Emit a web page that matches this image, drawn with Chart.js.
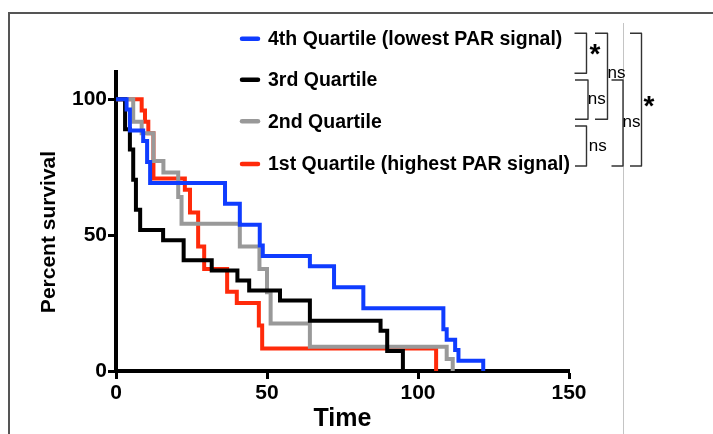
<!DOCTYPE html>
<html><head><meta charset="utf-8">
<script src="https://cdn.jsdelivr.net/npm/chart.js@4.4.1/dist/chart.umd.min.js"></script>
<style>html,body{margin:0;padding:0;background:#fff;}#wrap{position:relative;width:713px;height:434px;}</style>
</head><body><div id="wrap"><canvas id="c" width="713" height="434"></canvas></div>
<script>
// ---- data ----
const seriesLabels = ['4th Quartile (lowest PAR signal)', '3rd Quartile', '2nd Quartile', '1st Quartile (highest PAR signal)'];
const seriesColors = ['#0f3cff', '#000000', '#999999', '#ff2a0a'];

const q4Time = [0, 3.5, 4.6, 9.0, 10.3, 11.3, 36.1, 41.0, 47.6, 48.6, 64.2, 72.2, 81.9, 108.4, 109.5, 112.3, 113.4, 121.6];
const q4Surv = [100, 96.2, 88.5, 84.6, 76.9, 69.2, 61.5, 53.8, 46.2, 42.3, 38.5, 30.8, 23.1, 15.4, 11.5, 7.7, 3.8, 0];

const q3Time = [0, 3.0, 4.6, 5.7, 6.6, 8.0, 15.6, 22.4, 31.7, 40.2, 44.1, 54.3, 64.2, 87.6, 89.8, 95.0];
const q3Surv = [100, 88.9, 81.5, 70.4, 59.3, 51.9, 48.1, 40.7, 37.0, 33.3, 29.6, 25.9, 18.5, 14.8, 7.4, 0];

const q2Time = [0, 5.7, 8.5, 12.4, 15.7, 20.6, 21.7, 41.0, 47.5, 50.0, 51.2, 64.2, 109.5, 111.5];
const q2Surv = [100, 91.7, 87.5, 77.3, 73.0, 64.0, 54.2, 45.8, 37.5, 29.0, 17.5, 8.9, 4.4, 0];

const q1Time = [0, 8.5, 9.6, 10.7, 12.4, 22.8, 24.5, 27.2, 29.2, 36.8, 40.0, 47.3, 48.4, 106.0];
const q1Surv = [100, 95.8, 91.7, 87.5, 70.8, 66.7, 58.3, 45.8, 37.5, 29.2, 25.0, 16.7, 8.3, 0];

const xTicks = [0, 50, 100, 150];
const yTicks = [0, 50, 100];
const xTitle = 'Time';
const yTitle = 'Percent survival';
// pairwise comparison marks: [index a, index b, label]
const compA = [0, 1, 2, 0, 1, 0];
const compB = [1, 2, 3, 2, 3, 3];
const compLabel = ['*', 'ns', 'ns', 'ns', 'ns', '*'];

// ---- chart ----
const FONT = '"Liberation Sans", Arial, Helvetica, sans-serif';
const times = [q4Time, q3Time, q2Time, q1Time];
const survs = [q4Surv, q3Surv, q2Surv, q1Surv];
const datasets = seriesLabels.map((lab, i) => ({
  label: lab,
  data: times[i].map((t, k) => ({x: t, y: survs[i][k]})),
  borderColor: seriesColors[i],
  backgroundColor: seriesColors[i],
  borderWidth: 4,
  stepped: 'before',
  pointRadius: 0,
  fill: false,
  borderJoinStyle: 'miter',
  borderCapStyle: 'butt',
  clip: 4
}));

function drawInk(ctx, text, cx, cy) {
  const m = ctx.measureText(text);
  const w = m.actualBoundingBoxRight + m.actualBoundingBoxLeft;
  const x = cx - w / 2 + m.actualBoundingBoxLeft;
  const y = cy + (m.actualBoundingBoxAscent - m.actualBoundingBoxDescent) / 2;
  ctx.textAlign = 'left'; ctx.textBaseline = 'alphabetic';
  ctx.fillText(text, x, y);
}

const decor = {
  id: 'decor',
  beforeDraw(chart) {
    const ctx = chart.ctx;
    ctx.save();
    ctx.fillStyle = '#fff'; ctx.fillRect(0, 0, chart.width, chart.height);
    ctx.strokeStyle = '#555'; ctx.lineWidth = 2;
    ctx.beginPath(); ctx.moveTo(9, 434); ctx.lineTo(9, 13); ctx.lineTo(713, 13); ctx.stroke();
    ctx.strokeStyle = '#c4c4c4'; ctx.lineWidth = 1;
    ctx.beginPath(); ctx.moveTo(623.5, 23); ctx.lineTo(623.5, 434); ctx.stroke();
    ctx.restore();
  },
  afterDraw(chart) {
    const ctx = chart.ctx;
    ctx.save();
    // legend
    const ly = [38.8, 79.7, 121.2, 164];
    chart.data.datasets.forEach((ds, i) => {
      ctx.strokeStyle = ds.borderColor; ctx.lineWidth = 4.5; ctx.lineCap = 'round';
      ctx.beginPath(); ctx.moveTo(242, ly[i]); ctx.lineTo(258, ly[i]); ctx.stroke();
      ctx.fillStyle = '#000'; ctx.font = 'bold 19.5px ' + FONT;
      ctx.textAlign = 'left'; ctx.textBaseline = 'middle';
      ctx.fillText(ds.label, 268, ly[i] + 1);
    });
    // brackets
    const brX1 = [574.5, 575, 575, 595, 611.5, 630];
    const brX2 = [586.5, 588, 586.5, 607.5, 623, 641.5];
    const yTop = [33.3, 80, 126];
    const yBot = [73.3, 119.3, 166];
    const labX = [595, 597, 598, 616.7, 631.7, 649];
    const labY = [57.5, 99.5, 146, 73.8, 122.8, 101.7];
    ctx.strokeStyle = '#333'; ctx.lineWidth = 1.4; ctx.lineCap = 'butt'; ctx.lineJoin = 'round';
    for (let k = 0; k < compLabel.length; k++) {
      const t = yTop[compA[k]] ;
      const b = yBot[compB[k] - 1];
      ctx.beginPath();
      ctx.moveTo(brX1[k], t); ctx.lineTo(brX2[k], t); ctx.lineTo(brX2[k], b); ctx.lineTo(brX1[k], b);
      ctx.stroke();
      ctx.fillStyle = '#000';
      if (compLabel[k] === '*') { ctx.font = 'bold 28px ' + FONT; }
      else { ctx.font = '17px ' + FONT; }
      drawInk(ctx, compLabel[k], labX[k], labY[k]);
    }
    // y title
    ctx.translate(49, 232); ctx.rotate(-Math.PI / 2);
    ctx.font = 'bold 21px ' + FONT; ctx.fillStyle = '#000';
    ctx.textAlign = 'center'; ctx.textBaseline = 'middle';
    ctx.fillText(yTitle, 0, 0);
    ctx.restore();
  }
};

new Chart(document.getElementById('c'), {
  type: 'line',
  data: {datasets},
  plugins: [decor],
  options: {
    responsive: false, animation: false, devicePixelRatio: 1,
    layout: {padding: {left: 0, top: 72, right: 144, bottom: 0}},
    plugins: {legend: {display: false}, tooltip: {enabled: false}},
    scales: {
      x: {
        type: 'linear', min: 0, max: 150,
        afterBuildTicks: s => { s.ticks = xTicks.map(v => ({value: v})); },
        afterFit: s => { s.height = 63; },
        grid: {drawOnChartArea: false, drawTicks: true, tickLength: 8, tickWidth: 3, tickColor: '#000', color: '#000'},
        border: {display: true, width: 4, color: '#000'},
        ticks: {color: '#000', padding: 2, maxRotation: 0, font: {family: FONT, size: 21, weight: 'bold'}},
        title: {display: true, text: xTitle, color: '#000', padding: {top: 0, bottom: 0}, font: {family: FONT, size: 25, weight: 'bold'}}
      },
      y: {
        type: 'linear', min: 0, max: 110,
        afterBuildTicks: s => { s.ticks = yTicks.map(v => ({value: v})); },
        afterFit: s => { s.width = 116; },
        grid: {drawOnChartArea: false, drawTicks: true, tickLength: 8, tickWidth: 3, tickColor: '#000', color: '#000'},
        border: {display: true, width: 4, color: '#000'},
        ticks: {color: '#000', padding: 1, font: {family: FONT, size: 21, weight: 'bold'}}
      }
    }
  }
});
</script></body></html>
